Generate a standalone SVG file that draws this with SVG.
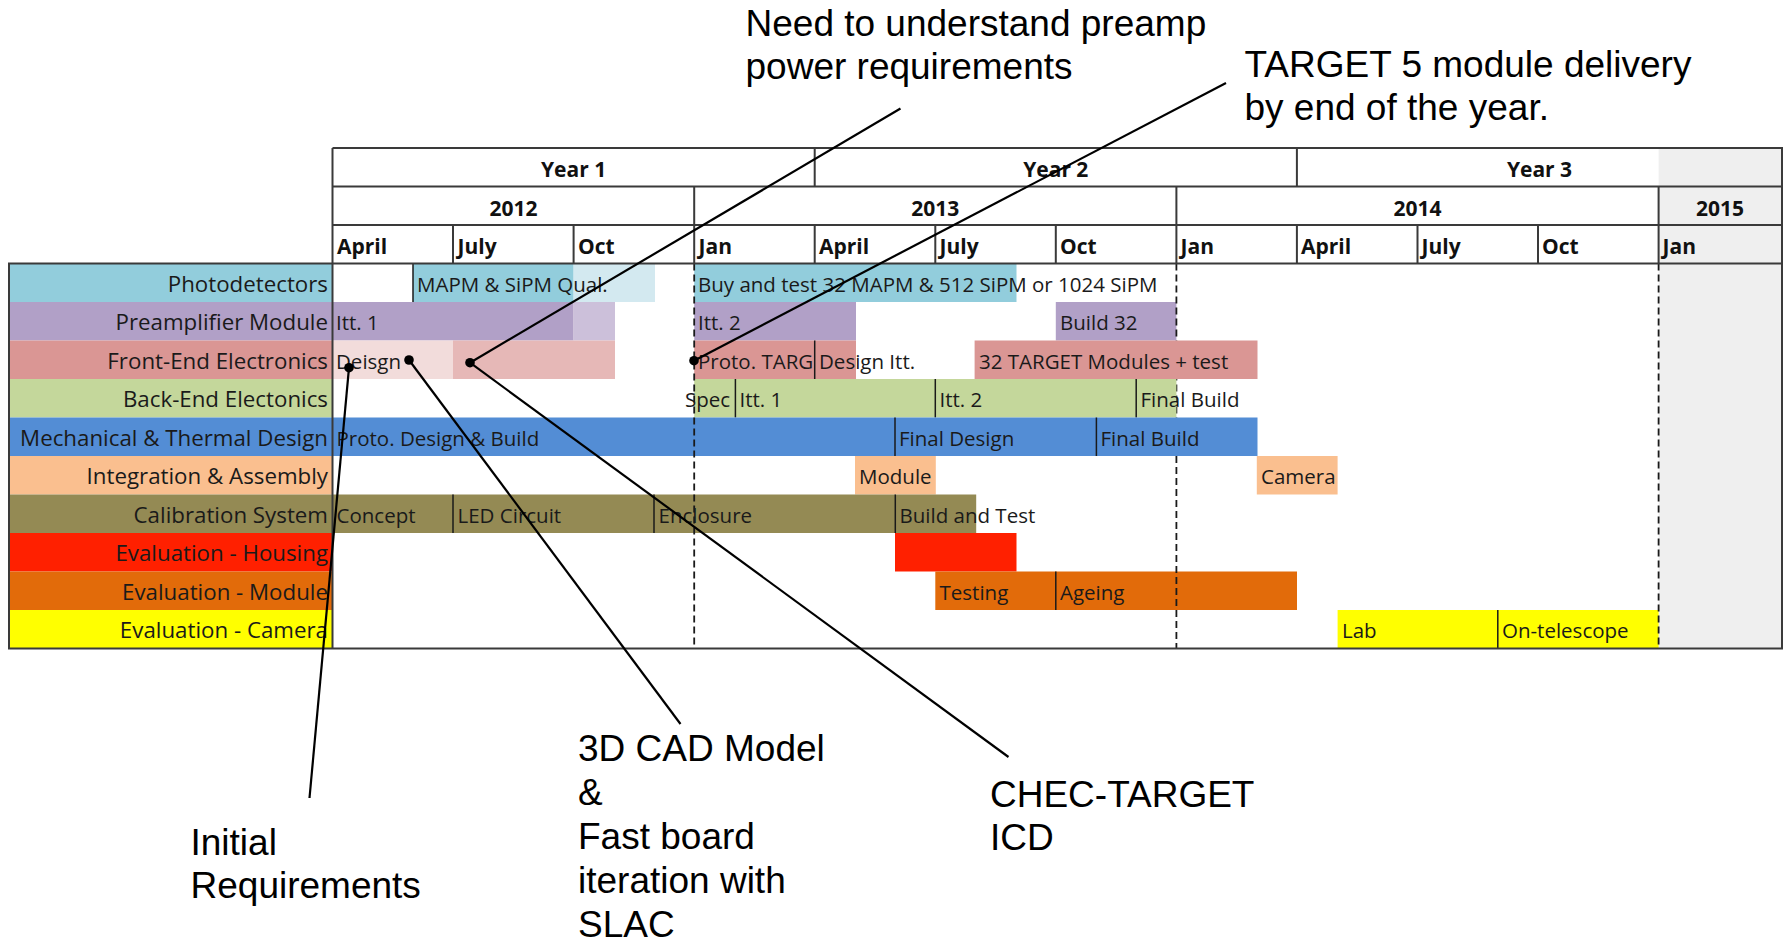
<svg xmlns="http://www.w3.org/2000/svg" width="1785" height="943" viewBox="0 0 1785 943">
<style>
.t{font-family:"Open Sans","Liberation Sans",sans-serif;font-size:20.5px;fill:#1a1a1a}
.lbl{font-size:22.3px;text-anchor:end}
.h{font-family:"Open Sans","Liberation Sans",sans-serif;font-size:21px;font-weight:bold;fill:#111}
.c{text-anchor:middle}
.a{font-family:"Liberation Sans",Arial,sans-serif;font-size:37px;fill:#000}
.g{stroke:#3a3a3a;stroke-width:2;fill:none}
.d{stroke:#1a1a1a;stroke-width:1.5}
.dash{stroke:#1a1a1a;stroke-width:1.8;stroke-dasharray:7 4}
.cn{stroke:#000;stroke-width:2.2;fill:none}
</style>
<rect width="1785" height="943" fill="#fff"/>
<rect x="1658.6" y="148" width="123.4" height="500.5" fill="#efefef"/>

<g id="header">
<text class="h c" x="573.6" y="177">Year 1</text>
<text class="h c" x="1055.8" y="177">Year 2</text>
<text class="h c" x="1539.5" y="177">Year 3</text>
<text class="h c" x="513.4" y="216">2012</text>
<text class="h c" x="935.3" y="216">2013</text>
<text class="h c" x="1417.5" y="216">2014</text>
<text class="h c" x="1720" y="216">2015</text>
<text class="h" x="337" y="254">April</text>
<text class="h" x="457.5" y="254">July</text>
<text class="h" x="578" y="254">Oct</text>
<text class="h" x="698.5" y="254">Jan</text>
<text class="h" x="819" y="254">April</text>
<text class="h" x="939.5" y="254">July</text>
<text class="h" x="1060" y="254">Oct</text>
<text class="h" x="1180.5" y="254">Jan</text>
<text class="h" x="1301" y="254">April</text>
<text class="h" x="1421.5" y="254">July</text>
<text class="h" x="1542" y="254">Oct</text>
<text class="h" x="1662.5" y="254">Jan</text>
</g>

<g id="dashes-under">
<line class="dash" x1="1176.4" y1="340.5" x2="1176.4" y2="456"/>
</g>

<g id="row-photodetectors">
<rect x="9" y="263.5" width="323.5" height="38.5" fill="#92cddc"/>
<text class="t lbl" x="328" y="291.5">Photodetectors</text>
<rect x="413" y="263.5" width="160.6" height="38.5" fill="#92cddc"/>
<rect x="573.6" y="263.5" width="81.4" height="38.5" fill="#d3e9f0"/>
<line class="d" x1="413" y1="263.5" x2="413" y2="302"/>
<text class="t" x="417" y="291.5">MAPM &amp; SiPM Qual.</text>
<rect x="694.2" y="263.5" width="322.3" height="38.5" fill="#92cddc"/>
<text class="t" x="698" y="291.5">Buy and test 32 MAPM &amp; 512 SiPM or 1024 SiPM</text>
</g>

<g id="row-preamplifier">
<rect x="9" y="302" width="323.5" height="38.5" fill="#b1a0c7"/>
<text class="t lbl" x="328" y="330">Preamplifier Module</text>
<rect x="332.5" y="302" width="241.1" height="38.5" fill="#b1a0c7"/>
<rect x="573.6" y="302" width="41.4" height="38.5" fill="#ccc0da"/>
<text class="t" x="336" y="330">Itt. 1</text>
<rect x="694.2" y="302" width="161.8" height="38.5" fill="#b1a0c7"/>
<text class="t" x="698" y="330">Itt. 2</text>
<rect x="1055.8" y="302" width="120.6" height="38.5" fill="#b1a0c7"/>
<text class="t" x="1060" y="330">Build 32</text>
</g>

<g id="row-frontend">
<rect x="9" y="340.5" width="323.5" height="38.5" fill="#da9694"/>
<text class="t lbl" x="328" y="368.5">Front-End Electronics</text>
<rect x="332.5" y="340.5" width="120.5" height="38.5" fill="#f2dcdb"/>
<rect x="453" y="340.5" width="162" height="38.5" fill="#e6b8b7"/>
<text class="t" x="336" y="368.5">Deisgn</text>
<rect x="694.2" y="340.5" width="161.8" height="38.5" fill="#da9694"/>
<line class="d" x1="814.7" y1="340.5" x2="814.7" y2="379"/>
<text class="t" x="698" y="368.5">Proto. TARG</text>
<text class="t" x="819" y="368.5">Design Itt.</text>
<rect x="974.6" y="340.5" width="282.9" height="38.5" fill="#da9694"/>
<text class="t" x="979" y="368.5">32 TARGET Modules + test</text>
</g>

<g id="row-backend">
<rect x="9" y="379" width="323.5" height="38.5" fill="#c4d79b"/>
<text class="t lbl" x="328" y="407">Back-End Electonics</text>
<rect x="694.2" y="379" width="482.2" height="38.5" fill="#c4d79b"/>
<line class="d" x1="735.4" y1="379" x2="735.4" y2="417.5"/>
<line class="d" x1="935.3" y1="379" x2="935.3" y2="417.5"/>
<line class="d" x1="1136.2" y1="379" x2="1136.2" y2="417.5"/>
<text class="t" x="685" y="407">Spec</text>
<text class="t" x="739.5" y="407">Itt. 1</text>
<text class="t" x="939.5" y="407">Itt. 2</text>
<text class="t" x="1140.5" y="407">Final Build</text>
</g>

<g id="row-mechanical">
<rect x="9" y="417.5" width="323.5" height="38.5" fill="#538dd5"/>
<text class="t lbl" x="328" y="445.5">Mechanical &amp; Thermal Design</text>
<rect x="332.5" y="417.5" width="925" height="38.5" fill="#538dd5"/>
<line class="d" x1="895" y1="417.5" x2="895" y2="456"/>
<line class="d" x1="1096.4" y1="417.5" x2="1096.4" y2="456"/>
<text class="t" x="336.5" y="445.5">Proto. Design &amp; Build</text>
<text class="t" x="899" y="445.5">Final Design</text>
<text class="t" x="1100.5" y="445.5">Final Build</text>
</g>

<g id="row-integration">
<rect x="9" y="456" width="323.5" height="38.5" fill="#fabf8f"/>
<text class="t lbl" x="328" y="484">Integration &amp; Assembly</text>
<rect x="855" y="456" width="80.8" height="38.5" fill="#fabf8f"/>
<text class="t" x="859" y="484">Module</text>
<rect x="1256.8" y="456" width="80.8" height="38.5" fill="#fabf8f"/>
<text class="t" x="1261" y="484">Camera</text>
</g>

<g id="row-calibration">
<rect x="9" y="494.5" width="323.5" height="38.5" fill="#948a54"/>
<text class="t lbl" x="328" y="522.5">Calibration System</text>
<rect x="332.5" y="494.5" width="643.7" height="38.5" fill="#948a54"/>
<line class="d" x1="453" y1="494.5" x2="453" y2="533"/>
<line class="d" x1="654" y1="494.5" x2="654" y2="533"/>
<line class="d" x1="895.3" y1="494.5" x2="895.3" y2="533"/>
<text class="t" x="336.5" y="522.5">Concept</text>
<text class="t" x="457.5" y="522.5">LED Circuit</text>
<text class="t" x="658.5" y="522.5">Enclosure</text>
<text class="t" x="899.5" y="522.5">Build and Test</text>
</g>

<g id="row-eval-housing">
<rect x="9" y="533" width="323.5" height="38.5" fill="#ff2000"/>
<text class="t lbl" x="328" y="561">Evaluation - Housing</text>
<rect x="895" y="533" width="121.5" height="38.5" fill="#ff2000"/>
</g>

<g id="row-eval-module">
<rect x="9" y="571.5" width="323.5" height="38.5" fill="#e26b0a"/>
<text class="t lbl" x="328" y="599.5">Evaluation - Module</text>
<rect x="935.3" y="571.5" width="361.7" height="38.5" fill="#e26b0a"/>
<line class="d" x1="1055.8" y1="571.5" x2="1055.8" y2="610"/>
<text class="t" x="939.5" y="599.5">Testing</text>
<text class="t" x="1060" y="599.5">Ageing</text>
</g>

<g id="row-eval-camera">
<rect x="9" y="610" width="323.5" height="38.5" fill="#ffff00"/>
<text class="t lbl" x="328" y="638">Evaluation - Camera</text>
<rect x="1337.6" y="610" width="321" height="38.5" fill="#ffff00"/>
<line class="d" x1="1497.8" y1="610" x2="1497.8" y2="648.5"/>
<text class="t" x="1342" y="638">Lab</text>
<text class="t" x="1502" y="638">On-telescope</text>
</g>

<g id="grid">
<line class="dash" x1="694.2" y1="263.5" x2="694.2" y2="648.5"/>
<line class="dash" x1="1176.4" y1="263.5" x2="1176.4" y2="340.5"/>
<line class="dash" x1="1176.4" y1="456" x2="1176.4" y2="648.5"/>
<line class="dash" x1="1658.6" y1="263.5" x2="1658.6" y2="648.5"/>
<path class="g" d="M332.5 148H1782V648.5H9V263.5H1782M332.5 186.5H1782M332.5 225H1782M332.5 148V648.5M814.7 148V186.5M1296.9 148V186.5M694.2 186.5V225M1176.4 186.5V225M1658.6 186.5V225M453 225V263.5M573.6 225V263.5M694.2 225V263.5M814.7 225V263.5M935.3 225V263.5M1055.8 225V263.5M1176.4 225V263.5M1296.9 225V263.5M1417.5 225V263.5M1538 225V263.5M1658.6 225V263.5"/>
</g>

<g id="connectors">
<line class="cn" x1="900.5" y1="108.5" x2="470" y2="362.7"/>
<line class="cn" x1="1226" y1="83" x2="694" y2="360.7"/>
<line class="cn" x1="409" y1="360" x2="680.5" y2="724"/>
<line class="cn" x1="470" y1="362.7" x2="1008.5" y2="757"/>
<line class="cn" x1="349" y1="367.7" x2="309.5" y2="798"/>
<circle cx="470" cy="362.7" r="4.8"/>
<circle cx="694" cy="360.7" r="4.8"/>
<circle cx="409" cy="360" r="4.8"/>
<circle cx="349" cy="367.7" r="4.8"/>
</g>

<g id="note-preamp">
<text class="a" x="745.5" y="36">Need to understand preamp</text>
<text class="a" x="745.5" y="79">power requirements</text>
</g>
<g id="note-target5">
<text class="a" x="1244.5" y="76.5">TARGET 5 module delivery</text>
<text class="a" x="1244.5" y="119.5">by end of the year.</text>
</g>
<g id="note-cad">
<text class="a" x="578" y="760.5">3D CAD Model</text>
<text class="a" x="578" y="804.5">&amp;</text>
<text class="a" x="578" y="848.5">Fast board</text>
<text class="a" x="578" y="892.5">iteration with</text>
<text class="a" x="578" y="936.5">SLAC</text>
</g>
<g id="note-icd">
<text class="a" x="990" y="806.5">CHEC-TARGET</text>
<text class="a" x="990" y="849.5">ICD</text>
</g>
<g id="note-initial">
<text class="a" x="190.5" y="855">Initial</text>
<text class="a" x="190.5" y="898">Requirements</text>
</g>
</svg>
